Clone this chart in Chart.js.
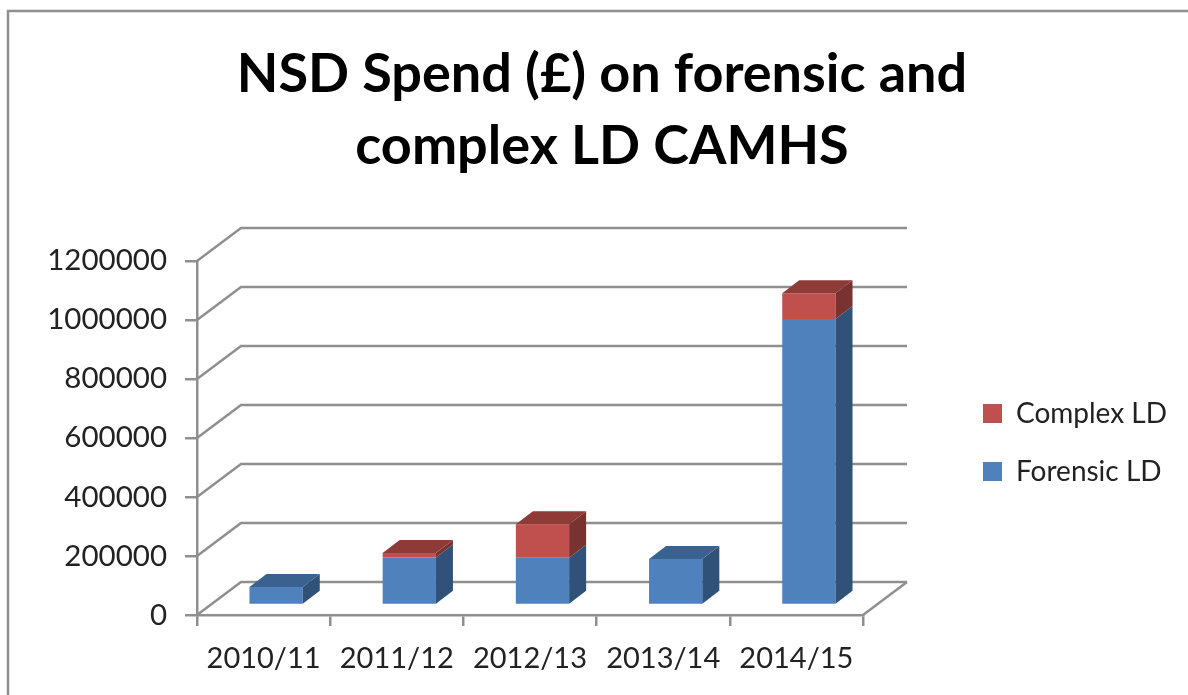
<!DOCTYPE html>
<html><head><meta charset="utf-8">
<style>html,body{margin:0;padding:0;background:#fff}canvas{display:block}</style>
<script src="https://cdn.jsdelivr.net/npm/chart.js@4"></script>
</head><body><canvas id="c" width="1188" height="695"></canvas>
<script>
const categories = ["2010/11","2011/12","2012/13","2013/14","2014/15"];
const forensicLD = [61000,161000,160000,156000,969000];
const complexLD = [0,15000,114000,0,88000];
const titleLines = ["NSD Spend (£) on forensic and","complex LD CAMHS"];
const GRID = "#8f8f8f", FONT = "Lato, 'Open Sans', sans-serif", LW = 2.5;
const wall = {dx:44, dy:-33}, depth = {dx:17, dy:-13}, shift = {x:12.5, y:-10}, legendDrop = 95;
const shades = [{side:"#305278",top:"#396291"},{side:"#783230",top:"#8e3a37"}];

const threeD = {
  id:"threeD",
  afterLayout(chart){
    chart.legend.top += legendDrop; chart.legend.bottom += legendDrop;
  },
  beforeDraw(chart){
    const c = chart.ctx;
    c.save(); c.strokeStyle = GRID; c.lineWidth = LW;
    c.beginPath(); c.moveTo(8,695); c.lineTo(8,11); c.lineTo(1188,11); c.stroke();
    c.restore();
  },
  beforeDatasetsDraw(chart){
    const c = chart.ctx, a = chart.chartArea, y = chart.scales.y;
    c.save(); c.strokeStyle = GRID; c.lineWidth = LW;
    y.ticks.forEach(t=>{
      const p = y.getPixelForValue(t.value);
      c.beginPath(); c.moveTo(a.left,p); c.lineTo(a.left+wall.dx,p+wall.dy); c.lineTo(a.right+wall.dx,p+wall.dy); c.stroke();
    });
    c.beginPath(); c.moveTo(a.right,a.bottom); c.lineTo(a.right+wall.dx,a.bottom+wall.dy); c.stroke();
    c.restore();
    c.save(); c.translate(shift.x,shift.y);
  },
  afterDatasetsDraw(chart){
    const c = chart.ctx, n = chart.data.labels.length;
    for(let i=0;i<n;i++){
      let topDs = -1;
      chart.data.datasets.forEach((d,k)=>{ if(d.data[i]>0) topDs = k; });
      chart.data.datasets.forEach((d,k)=>{
        if(!(d.data[i]>0)) return;
        const b = chart.getDatasetMeta(k).data[i].getProps(["x","y","base","width"],true);
        const l = b.x-b.width/2, r = b.x+b.width/2;
        c.fillStyle = shades[k].side;
        c.beginPath(); c.moveTo(r,b.base); c.lineTo(r+depth.dx,b.base+depth.dy); c.lineTo(r+depth.dx,b.y+depth.dy); c.lineTo(r,b.y); c.closePath(); c.fill();
        if(k===topDs){
          c.fillStyle = shades[k].top;
          c.beginPath(); c.moveTo(l,b.y); c.lineTo(l+depth.dx,b.y+depth.dy); c.lineTo(r+depth.dx,b.y+depth.dy); c.lineTo(r,b.y); c.closePath(); c.fill();
        }
      });
    }
    c.restore();
  }
};

new Chart(document.getElementById("c"),{
  type:"bar",
  data:{labels:categories,datasets:[
    {label:"Forensic LD",data:forensicLD,backgroundColor:"#4f81bd",categoryPercentage:1,barPercentage:0.4},
    {label:"Complex LD",data:complexLD,backgroundColor:"#c0504d",categoryPercentage:1,barPercentage:0.4}
  ]},
  plugins:[threeD],
  options:{
    responsive:false,animation:false,
    layout:{padding:{left:27,right:11,top:0,bottom:0}},
    plugins:{
      tooltip:{enabled:false},
      title:{display:true,text:titleLines,color:"#000",font:{family:FONT,size:54,weight:"bold",lineHeight:1.333},padding:{top:39,bottom:78}},
      legend:{display:true,position:"right",reverse:true,maxWidth:260,labels:{boxWidth:19,boxHeight:19,padding:30,color:"#222",font:{family:FONT,size:28}}}
    },
    scales:{
      x:{stacked:true,clip:false,
        grid:{color:GRID,lineWidth:LW,drawOnChartArea:false,drawTicks:true,tickLength:11,offset:true},
        border:{color:GRID,width:LW},
        ticks:{color:"#222",font:{family:FONT,size:29},padding:15,maxRotation:0,autoSkip:false},
        afterFit(s){s.height=80}
      },
      y:{stacked:true,min:0,max:1200000,
        grid:{color:GRID,lineWidth:LW,drawOnChartArea:false,drawTicks:true,tickLength:12},
        border:{color:GRID,width:LW},
        ticks:{stepSize:200000,color:"#222",font:{family:FONT,size:29.5},padding:18,callback:v=>String(v)},
        afterFit(s){s.width=170}
      },
      spacer:{type:"linear",position:"right",display:true,grid:{display:false},border:{display:false},ticks:{display:false},afterFit(s){s.width=90}}
    }
  }
});
</script></body></html>
